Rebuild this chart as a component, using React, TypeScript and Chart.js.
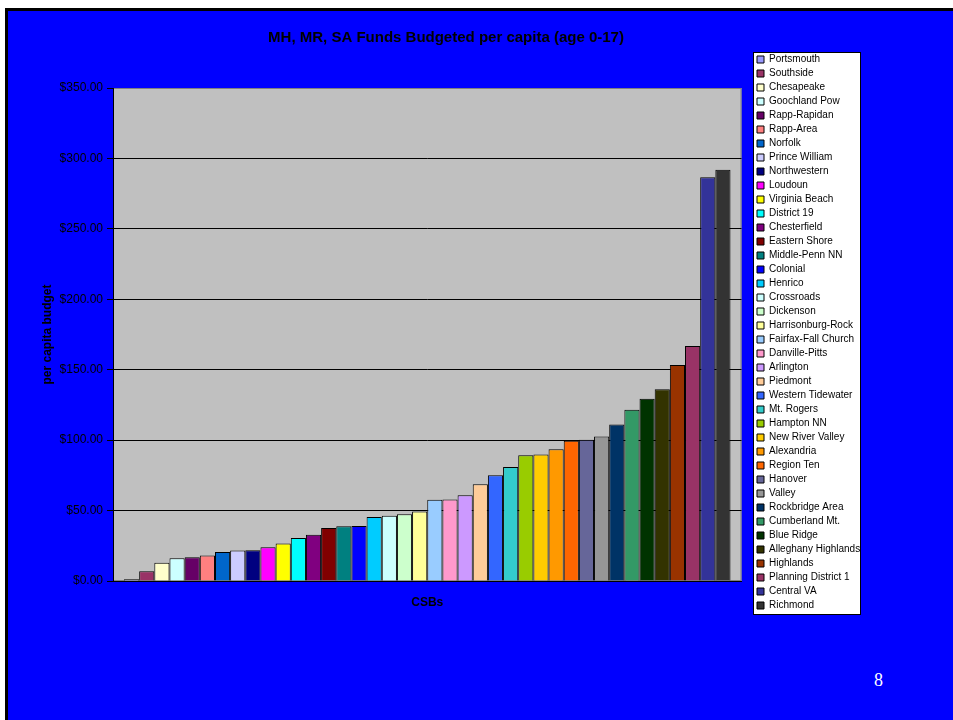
import React, { useEffect, useRef } from 'react';
import { Chart, registerables } from 'chart.js';

Chart.register(...registerables);

const TITLE = 'MH, MR, SA Funds Budgeted per capita (age 0-17)';
const X_TITLE = 'CSBs';
const Y_TITLE = 'per capita budget';
const SLIDE_NUMBER = '8';

const CSB_NAMES = [
  'Portsmouth', 'Southside', 'Chesapeake', 'Goochland Pow', 'Rapp-Rapidan',
  'Rapp-Area', 'Norfolk', 'Prince William', 'Northwestern', 'Loudoun',
  'Virginia Beach', 'District 19', 'Chesterfield', 'Eastern Shore', 'Middle-Penn NN',
  'Colonial', 'Henrico', 'Crossroads', 'Dickenson', 'Harrisonburg-Rock',
  'Fairfax-Fall Church', 'Danville-Pitts', 'Arlington', 'Piedmont', 'Western Tidewater',
  'Mt. Rogers', 'Hampton NN', 'New River Valley', 'Alexandria', 'Region Ten',
  'Hanover', 'Valley', 'Rockbridge Area', 'Cumberland Mt.', 'Blue Ridge',
  'Alleghany Highlands', 'Highlands', 'Planning District 1', 'Central VA', 'Richmond',
];

const BUDGET_VALUES = [
  1.2, 7.0, 13.0, 16.2, 16.9,
  18.1, 20.5, 21.7, 21.8, 24.0,
  26.6, 30.5, 32.9, 37.6, 38.8,
  39.1, 45.5, 46.4, 47.4, 49.4,
  57.6, 57.9, 60.9, 68.7, 75.1,
  81.0, 89.3, 89.8, 93.6, 99.5,
  100.2, 102.6, 111.1, 121.5, 129.4,
  136.1, 153.3, 166.8, 286.6, 292.0,
];

const BAR_COLORS = [
  '#9999FF', '#993366', '#FFFFCC', '#CCFFFF', '#660066',
  '#FF8080', '#0066CC', '#CCCCFF', '#000080', '#FF00FF',
  '#FFFF00', '#00FFFF', '#800080', '#800000', '#008080',
  '#0000FF', '#00CCFF', '#CCFFFF', '#CCFFCC', '#FFFF99',
  '#99CCFF', '#FF99CC', '#CC99FF', '#FFCC99', '#3366FF',
  '#33CCCC', '#99CC00', '#FFCC00', '#FF9900', '#FF6600',
  '#666699', '#969696', '#003366', '#339966', '#003300',
  '#333300', '#993300', '#993366', '#333399', '#333333',
];

const Y_MIN = 0;
const Y_MAX = 350;
const Y_STEP = 50;

const FONT = 'Arial, "Liberation Sans", sans-serif';

const backgroundPlugin = {
  id: 'slideBackground',
  beforeDraw(chart: any) {
    const { ctx, chartArea: a } = chart;
    ctx.save();
    ctx.fillStyle = '#C0C0C0';
    ctx.fillRect(a.left, a.top, a.right - a.left, a.bottom - a.top);
    ctx.strokeStyle = '#808080';
    ctx.lineWidth = 1;
    ctx.strokeRect(a.left + 0.5, a.top + 0.5, a.right - a.left - 1, a.bottom - a.top - 1);
    const lg = chart.legend;
    if (lg && lg.legendHitBoxes && lg.legendHitBoxes.length) {
      const hb = lg.legendHitBoxes;
      const first = hb[0];
      const last = hb[hb.length - 1];
      const x0 = lg.left;
      const x1 = lg.right - 2;
      const y0 = first.top - 2.5;
      const y1 = last.top + last.height + 4.5;
      ctx.fillStyle = '#FFFFFF';
      ctx.fillRect(x0, y0, x1 - x0, y1 - y0);
      ctx.strokeStyle = '#000000';
      ctx.strokeRect(Math.round(x0) + 0.5, Math.round(y0) + 0.5, Math.round(x1 - x0) - 1, Math.round(y1 - y0) - 1);
    }
    ctx.restore();
  },
};

export default function App() {
  const canvasRef = useRef<HTMLCanvasElement | null>(null);

  useEffect(() => {
    if (!canvasRef.current) return;
    Chart.defaults.font.family = FONT;
    const datasets = CSB_NAMES.map((name, i) => ({
      label: name,
      data: [BUDGET_VALUES[i]],
      backgroundColor: BAR_COLORS[i],
      borderColor: '#000000',
      borderWidth: 1,
      xAxisID: 'x',
      yAxisID: 'y',
      categoryPercentage: 0.965,
      barPercentage: 1,
    }));

    const chart = new Chart(canvasRef.current, {
      type: 'bar',
      data: { labels: [''], datasets },
      plugins: [backgroundPlugin],
      options: {
        responsive: false,
        animation: false,
        events: [],
        layout: { padding: { left: 21, right: 0, top: 0, bottom: 0 } },
        plugins: {
          tooltip: { enabled: false },
          title: {
            display: true,
            text: TITLE,
            color: '#000000',
            font: { family: FONT, size: 15, weight: 'bold' },
            padding: { top: 18, bottom: 3.5 },
          },
          legend: {
            display: true,
            position: 'right',
            align: 'start',
            maxWidth: 110,
            title: {
              display: true,
              text: ' ',
              font: { family: FONT, size: 10 },
              padding: { top: 27.5, bottom: 0 },
            },
            labels: {
              boxWidth: 7,
              boxHeight: 7,
              padding: 4,
              color: '#000000',
              font: { family: FONT, size: 10 },
            },
          },
        },
        scales: {
          x: {
            type: 'category',
            position: 'bottom',
            grid: { display: false, drawTicks: false },
            ticks: { display: false },
            border: { display: true, color: '#000000', width: 1 },
            title: {
              display: true,
              text: X_TITLE,
              color: '#000000',
              font: { family: FONT, size: 12, weight: 'bold' },
              padding: { top: 14.8, bottom: 10.8 },
            },
          },
          x2: {
            type: 'category',
            position: 'top',
            display: false,
            afterFit: (s: any) => { s.height = 37.5; },
          },
          y: {
            type: 'linear',
            position: 'left',
            min: Y_MIN,
            max: Y_MAX,
            ticks: {
              stepSize: Y_STEP,
              color: '#000000',
              padding: 4,
              font: { family: FONT, size: 12 },
              callback: (v: any) => '$' + Number(v).toFixed(2),
            },
            grid: {
              color: (c: any) => (c.tick && c.tick.value === Y_MAX ? '#808080' : '#000000'),
              lineWidth: 1,
              drawTicks: true,
              tickLength: 6,
              tickColor: '#000000',
            },
            border: { display: true, color: '#000000', width: 1 },
            title: {
              display: true,
              text: Y_TITLE,
              color: '#000000',
              font: { family: FONT, size: 12, weight: 'bold' },
              padding: { top: 11.5, bottom: 0 },
            },
            afterFit: (s: any) => { s.width = 84; },
          },
          y2: {
            type: 'linear',
            position: 'right',
            display: false,
            afterFit: (s: any) => { s.width = 11.5; },
          },
        },
      } as any,
    });
    return () => chart.destroy();
  }, []);

  return (
    <div style={{ position: 'absolute', left: 0, top: 0, width: 953, height: 720, background: '#FFFFFF', overflow: 'hidden' }}>
      <div
        style={{
          position: 'absolute', left: 5, top: 8, width: 948, height: 712,
          boxSizing: 'border-box', background: '#0000FF',
          borderLeft: '3px solid #000000', borderTop: '3px solid #000000',
        }}
      />
      <canvas
        ref={canvasRef}
        width={855}
        height={610}
        style={{ position: 'absolute', left: 8, top: 11, width: 855, height: 610 }}
      />
      <div
        style={{
          position: 'absolute', left: 874, top: 671, color: '#FFFFFF',
          fontFamily: '"Times New Roman", "Liberation Serif", serif', fontSize: 18, lineHeight: 1,
        }}
      >
        {SLIDE_NUMBER}
      </div>
    </div>
  );
}
